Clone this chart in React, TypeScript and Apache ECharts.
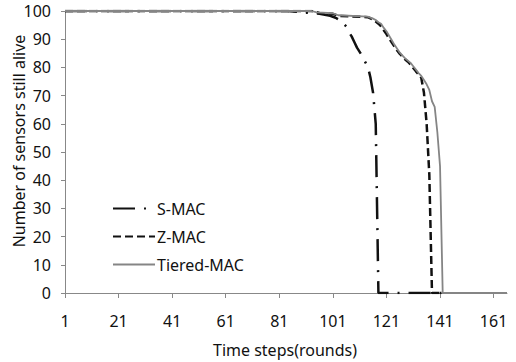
import React, { useEffect, useRef } from "react";
import * as echarts from "echarts";

const stepCount = 166;
const categories: string[] = Array.from({ length: stepCount }, (_, i) => String(i + 1));
const yTicks = { min: 0, max: 100, interval: 10 };

const sMacSteps = [1, 84, 90, 96, 100, 102, 104, 106, 107, 108, 109, 110, 111, 112, 113, 114, 115, 116, 117, 118, 142];
const sMacValues = [100, 100, 99.5, 99, 98.3, 97.6, 96.5, 94.5, 92.5, 91, 89, 87, 85.5, 84, 82, 80.5, 76.5, 71, 60, 0, 0];

const zMacSteps = [1, 93, 96, 101, 103, 114, 116, 117, 118, 119, 120, 121, 122, 123, 124, 125, 126, 127, 128, 129, 130, 131, 132, 133, 134, 135, 136, 137, 138, 142];
const zMacValues = [100, 100, 99.3, 99, 98.3, 97.8, 97, 96.3, 95.5, 94.6, 93.2, 91.8, 90.3, 88.8, 87.4, 86, 84.8, 83.8, 82.8, 82, 81, 79.8, 78.6, 77.5, 76.3, 71, 60, 42, 0, 0];

const tieredSteps = [1, 93, 95, 101, 103, 114, 116, 117, 118, 119, 120, 121, 122, 123, 124, 125, 126, 127, 128, 129, 130, 131, 132, 133, 134, 135, 136, 137, 138, 139, 140, 141, 142, 166];
const tieredValues = [100, 100, 99.5, 99.2, 98.5, 98, 97.3, 96.8, 96, 95.5, 94, 92.8, 91.2, 89.6, 88, 86.6, 85.2, 84.2, 83.2, 82.4, 81.6, 80.4, 79.2, 78, 77, 75.5, 74, 72, 68, 66, 57, 45, 0, 0];

const seriesNames = ["S-MAC", "Z-MAC", "Tiered-MAC"];
const xAxisTitle = "Time steps(rounds)";
const yAxisTitle = "Number of sensors still alive";

const pairs = (steps: number[], values: number[]) =>
  steps.map((s, i) => [String(s), values[i]]);

const FONT = "'Noto Sans', 'DejaVu Sans', sans-serif";

export default function App() {
  const ref = useRef<HTMLDivElement>(null);
  useEffect(() => {
    if (!ref.current) return;
    const chart = echarts.init(ref.current, undefined, { renderer: "svg" });
    chart.setOption({
      animation: false,
      backgroundColor: "#ffffff",
      grid: { left: 65, right: 9, top: 11, bottom: 69 },
      legend: {
        orient: "vertical",
        left: 112,
        top: 200,
        padding: 0,
        itemWidth: 42,
        itemHeight: 14,
        itemGap: 11,
        data: seriesNames,
        itemStyle: { opacity: 0 },
        textStyle: { fontFamily: FONT, fontSize: 16, color: "#111", lineHeight: 17, padding: [0, 0, 0, -3] },
      },
      xAxis: {
        type: "category",
        data: categories,
        boundaryGap: false,
        axisLine: { lineStyle: { color: "#888", width: 1 } },
        axisTick: { show: true, interval: 19, length: 5, lineStyle: { color: "#888" } },
        axisLabel: { interval: 19, margin: 20, fontFamily: FONT, fontSize: 16, color: "#111" },
        splitLine: { show: false },
      },
      yAxis: {
        type: "value",
        min: yTicks.min,
        max: yTicks.max,
        interval: yTicks.interval,
        axisLine: { show: true, lineStyle: { color: "#888", width: 1 } },
        axisTick: { show: true, length: 4, lineStyle: { color: "#888" } },
        axisLabel: { margin: 14, fontFamily: FONT, fontSize: 16, color: "#111" },
        splitLine: { show: false },
      },
      graphic: [
        {
          type: "text",
          x: 19,
          y: 141,
          rotation: Math.PI / 2,
          style: {
            text: yAxisTitle,
            align: "center",
            verticalAlign: "middle",
            fontFamily: FONT,
            fontSize: 16,
            fill: "#111",
          },
        },
        {
          type: "text",
          x: 285,
          y: 350,
          style: {
            text: xAxisTitle,
            align: "center",
            verticalAlign: "middle",
            fontFamily: FONT,
            fontSize: 16,
            fill: "#111",
          },
        },
      ],
      series: [
        {
          name: seriesNames[0],
          type: "line",
          data: pairs(sMacSteps, sMacValues),
          showSymbol: false,
          symbol: "none",
          lineStyle: { color: "#111", width: 2.5, type: [22, 9, 2, 9] },
          itemStyle: { color: "#111" },
        },
        {
          name: seriesNames[1],
          type: "line",
          data: pairs(zMacSteps, zMacValues),
          showSymbol: false,
          symbol: "none",
          lineStyle: { color: "#111", width: 2.5, type: [8, 4] },
          itemStyle: { color: "#111" },
        },
        {
          name: seriesNames[2],
          type: "line",
          data: pairs(tieredSteps, tieredValues),
          showSymbol: false,
          symbol: "none",
          lineStyle: { color: "#858585", width: 1.8 },
          itemStyle: { color: "#858585" },
        },
      ],
    });
    return () => chart.dispose();
  }, []);
  return <div ref={ref} style={{ width: 516, height: 362, position: "fixed", left: 0, top: 0 }} />;
}
